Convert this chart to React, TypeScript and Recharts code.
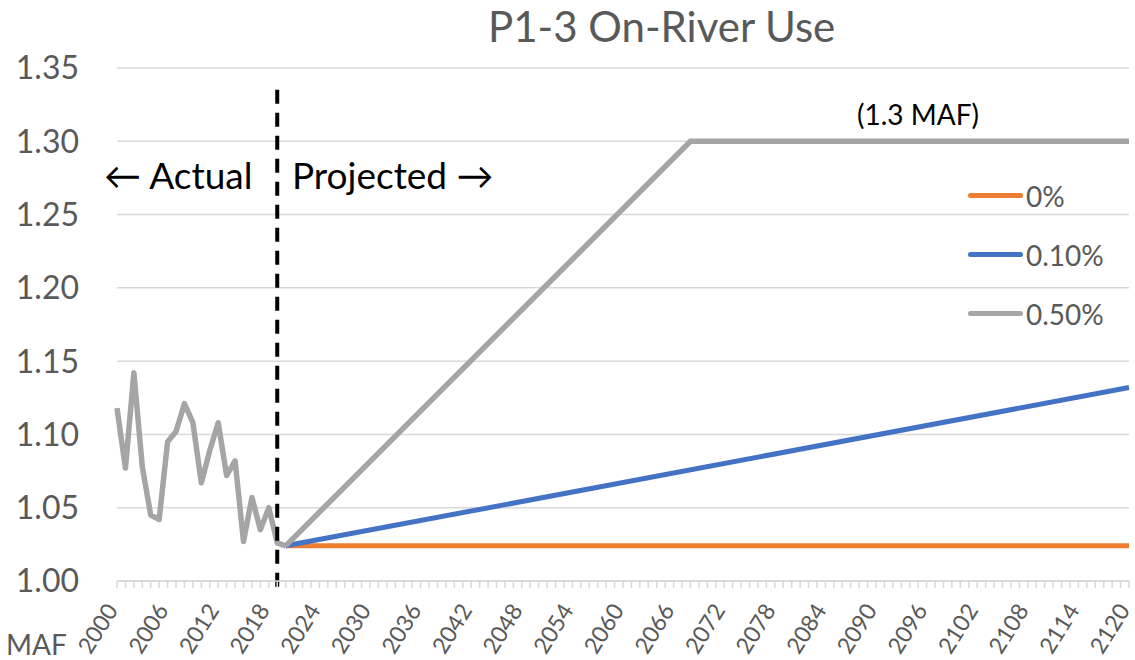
import React from 'react';
import { LineChart, Line, XAxis, YAxis, CartesianGrid, ReferenceLine } from 'recharts';

// actual use, 2000-2020
const actualYears = [2000, 2001, 2002, 2003, 2004, 2005, 2006, 2007, 2008, 2009, 2010, 2011, 2012, 2013, 2014, 2015, 2016, 2017, 2018, 2019, 2020];
const actualValues = [1.118, 1.077, 1.142, 1.078, 1.045, 1.042, 1.095, 1.102, 1.121, 1.108, 1.067, 1.089, 1.108, 1.072, 1.082, 1.027, 1.057, 1.035, 1.05, 1.026, 1.024];

// projections
const zeroYears = [2020, 2120];
const zeroValues = [1.024, 1.024];
const tenthYears = [2020, 2120];
const tenthValues = [1.024, 1.132];
const halfYears = [2020, 2068, 2120];
const halfValues = [1.024, 1.3, 1.3];

const yTicks = [1.0, 1.05, 1.1, 1.15, 1.2, 1.25, 1.3, 1.35];
const xLabelYears = [2000, 2006, 2012, 2018, 2024, 2030, 2036, 2042, 2048, 2054, 2060, 2066, 2072, 2078, 2084, 2090, 2096, 2102, 2108, 2114, 2120];
const minorTicks = Array.from({ length: 121 }, (_, i) => 2000 + i);

const toRows = (years: number[], values: number[]) => years.map((year, i) => ({ year, value: values[i] }));

const series = [
    { name: '0%', color: '#ED7D31', width: 5, rows: toRows(zeroYears, zeroValues) },
    { name: '0.10%', color: '#4472C4', width: 5, rows: toRows(tenthYears, tenthValues) },
    { name: '0.50%', color: '#A5A5A5', width: 5.5, rows: toRows(halfYears, halfValues) },
];
const actualRows = toRows(actualYears, actualValues);

const FONT = 'Lato, "Open Sans", sans-serif';
const GRAY_TEXT = '#595959';

const YearTick = (props: any) => {
    const { x, y, payload } = props;
    const showLabel = xLabelYears.includes(payload.value);
    const ax = x - 5;
    const ay = y + 25;
    return (
        <g>
            <line x1={x} y1={y} x2={x} y2={y + 7} stroke="#d9d9d9" strokeWidth={1.5} />
            {showLabel && (
                <text
                    x={ax}
                    y={ay}
                    dy="0.35em"
                    textAnchor="end"
                    transform={`rotate(-58, ${ax}, ${ay})`}
                    fontSize={23}
                    fontFamily={FONT}
                    fill={GRAY_TEXT}
                >
                    {payload.value}
                </text>
            )}
        </g>
    );
};

const label = (text: string, left: number, top: number, size: number, color: string) => (
    <div style={{ position: 'absolute', left, top, fontSize: size, lineHeight: 1, color, fontFamily: FONT, whiteSpace: 'nowrap' }}>
        {text}
    </div>
);

const App: React.FC = () => {
    return (
        <div style={{ position: 'absolute', left: 0, top: 0, width: 1135, height: 660, background: '#fff' }}>
            <LineChart width={1135} height={660} margin={{ top: 68, right: 6, left: 0, bottom: 0 }}>
                <CartesianGrid vertical={false} stroke="#d9d9d9" strokeWidth={1.5} />
                <XAxis
                    dataKey="year"
                    type="number"
                    domain={[2000, 2120]}
                    ticks={minorTicks}
                    interval={0}
                    height={79}
                    tickSize={0}
                    tickMargin={0}
                    tickLine={false}
                    axisLine={{ stroke: '#d9d9d9', strokeWidth: 1.5 }}
                    tick={<YearTick />}
                    allowDuplicatedCategory={false}
                />
                <YAxis
                    type="number"
                    domain={[1, 1.35]}
                    ticks={yTicks}
                    width={117}
                    axisLine={false}
                    tickLine={false}
                    tickMargin={32}
                    tickFormatter={(v: number) => v.toFixed(2)}
                    tick={{ fontSize: 32, fill: GRAY_TEXT, fontFamily: FONT }}
                />
                {series.map((s) => (
                    <Line
                        key={s.name}
                        data={s.rows}
                        dataKey="value"
                        name={s.name}
                        type="linear"
                        stroke={s.color}
                        strokeWidth={s.width}
                        dot={false}
                        isAnimationActive={false}
                    />
                ))}
                <Line
                    data={actualRows}
                    dataKey="value"
                    name="Actual"
                    type="linear"
                    stroke="#A5A5A5"
                    strokeWidth={5.5}
                    strokeLinejoin="round"
                    dot={false}
                    isAnimationActive={false}
                />
                <ReferenceLine
                    segment={[{ x: 2019, y: 0.996 }, { x: 2019, y: 1.336 }]}
                    stroke="#000"
                    strokeWidth={4}
                    strokeDasharray="14 9"
                    ifOverflow="visible"
                />
            </LineChart>

            {label('P1-3 On-River Use', 488, 5, 42, GRAY_TEXT)}
            {label('\u2190 Actual', 104, 156, 37, '#000')}
            {label('Projected \u2192', 292, 156, 37, '#000')}
            {label('(1.3 MAF)', 857, 100, 28, '#000')}
            {label('MAF', 6, 630, 28, GRAY_TEXT)}

            <div style={{ position: 'absolute', left: 968, top: 166, fontFamily: FONT }}>
                {series.map((s) => (
                    <div key={s.name} style={{ display: 'flex', alignItems: 'center', height: 59 }}>
                        <div style={{ width: 55, height: 5, borderRadius: 3, background: s.color, marginRight: 3 }} />
                        <span style={{ fontSize: 28, color: GRAY_TEXT, lineHeight: 1 }}>{s.name}</span>
                    </div>
                ))}
            </div>
        </div>
    );
};

export default App;
